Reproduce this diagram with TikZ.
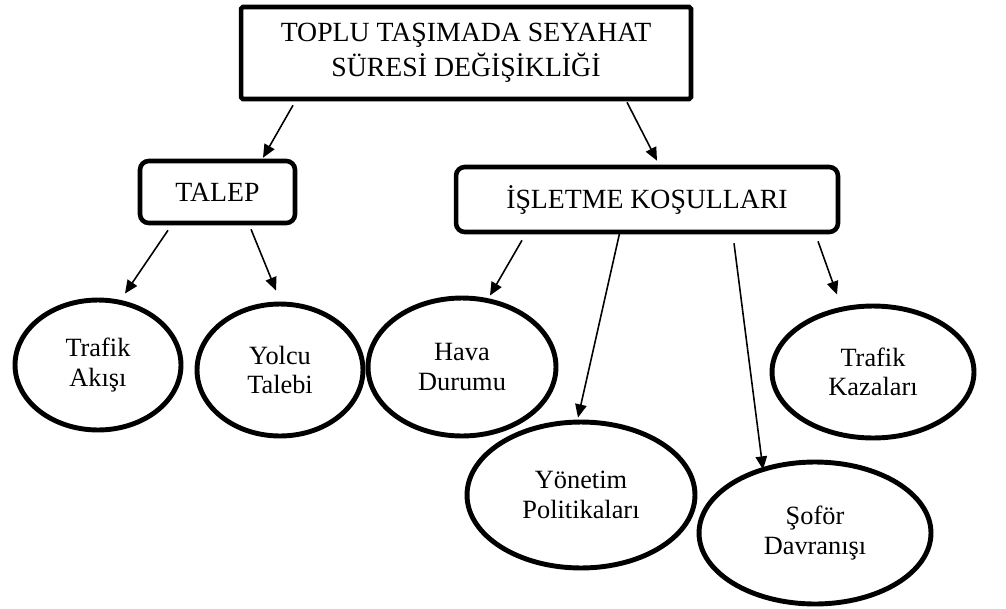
\documentclass[tikz,border=0pt]{standalone}
\usepackage{fontspec}
\setmainfont{Liberation Serif}
\usetikzlibrary{shapes.geometric,arrows.meta,calc}

\begin{document}
\begin{tikzpicture}[x=0.02cm,y=-0.02cm,
		kutu/.style={draw, line width=2.6pt, align=center, font=\fontsize{15.8}{19.8}\selectfont},
		elips/.style={draw, ellipse, line width=2.8pt, align=center, inner sep=0pt, font=\fontsize{15}{16.8}\selectfont},
		ok/.style={-{Triangle[length=7.5pt,width=6.5pt]}, line width=0.9pt}]
		\useasboundingbox (0,0) rectangle (1006,608);
		
		% ana kutu
		\node[kutu, minimum width=9cm, minimum height=1.84cm, rounded corners=1pt] (baslik) at (466,53)
			{TOPLU TAŞIMADA SEYAHAT\\SÜRESİ DEĞİŞİKLİĞİ};
		
		% ikinci seviye
		\node[kutu, minimum width=3.1cm, minimum height=1.24cm, rounded corners=5pt] (talep) at (217.5,192) {TALEP};
		\node[kutu, minimum width=7.64cm, minimum height=1.3cm, rounded corners=5pt] (isletme) at (647,199.5) {İŞLETME KOŞULLARI};
		
		% elipsler
		\node[elips, minimum width=3.32cm, minimum height=2.6cm] (akis) at (98,365) {Trafik\\Akışı};
		\node[elips, minimum width=3.32cm, minimum height=2.64cm] (yolcu) at (280,370) {Yolcu\\Talebi};
		\node[elips, minimum width=3.76cm, minimum height=2.76cm] (hava) at (462,367) {Hava\\Durumu};
		\node[elips, minimum width=4.56cm, minimum height=2.92cm] (yonetim) at (581,495) {Yönetim\\Politikaları};
		\node[elips, minimum width=4.64cm, minimum height=2.84cm] (sofor) at (815,533) {Şoför\\Davranışı};
		\node[elips, minimum width=4.04cm, minimum height=2.64cm] (kaza) at (873,372) {Trafik\\Kazaları};
		
		% oklar
		\draw[ok] ($(baslik.south)+(-173,4)$) -- ($(talep.north)+(45.5,-1)$);
		\draw[ok] ($(baslik.south)+(161,1)$) -- ($(isletme.north)+(10,-4)$);
		
		\draw[ok] ($(talep.south)+(-49.5,5)$) -- ($(akis.north)+(27,-4)$);
		\draw[ok] ($(talep.south)+(33.5,4)$) -- ($(yolcu.north)+(-4,-11)$);
		
		\draw[ok] ($(isletme.south)+(-125,6)$) -- ($(hava.north)+(28,0)$);
		\draw[ok] ($(isletme.south)+(-27,-3)$) -- ($(yonetim.north)+(-3,-2)$);
		\draw[ok] ($(isletme.south)+(87,9)$) -- ($(sofor.north)+(-52,10)$);
		\draw[ok] ($(isletme.south)+(171,7)$) -- ($(kaza.north)+(-36,-9)$);
	
	\end{tikzpicture}
\end{document}
